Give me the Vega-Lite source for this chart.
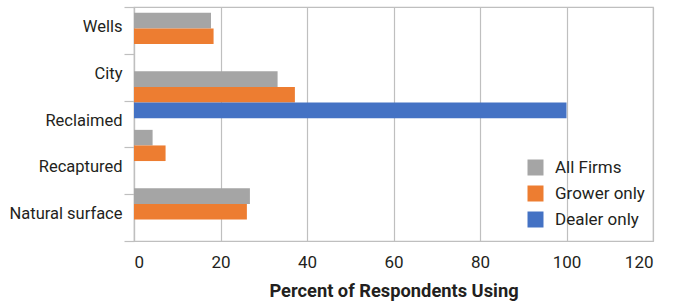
{
  "$schema": "https://vega.github.io/schema/vega-lite/v6.json",
  "autosize": {"type": "none"},
  "width": 519,
  "height": 234,
  "padding": {"left": 134, "top": 7, "right": 28, "bottom": 66},
  "background": "white",
  "config": {
    "view": {"stroke": "#bfbfbf", "strokeWidth": 1.2},
    "font": "Roboto, sans-serif",
    "axis": {"labelColor": "#231f20", "titleColor": "#231f20"}
  },
  "datasets": {
    "bars": [
      {"slot": "1", "series": "All Firms", "percent": 17.8},
      {"slot": "1", "series": "Grower only", "percent": 18.4},
      {"slot": "1", "series": "Dealer only", "percent": 0},
      {"slot": "2", "series": "All Firms", "percent": 33.2},
      {"slot": "2", "series": "Grower only", "percent": 37.2},
      {"slot": "2", "series": "Dealer only", "percent": 100},
      {"slot": "3", "series": "All Firms", "percent": 4.3},
      {"slot": "3", "series": "Grower only", "percent": 7.3},
      {"slot": "3", "series": "Dealer only", "percent": 0},
      {"slot": "4", "series": "All Firms", "percent": 26.8},
      {"slot": "4", "series": "Grower only", "percent": 26.1},
      {"slot": "4", "series": "Dealer only", "percent": 0}
    ],
    "labels": [
      {"source": "Wells"},
      {"source": "City"},
      {"source": "Reclaimed"},
      {"source": "Recaptured"},
      {"source": "Natural surface"}
    ]
  },
  "layer": [
    {
      "data": {"name": "bars"},
      "mark": {"type": "bar"},
      "encoding": {
        "y": {
          "field": "slot", "type": "nominal", "sort": null,
          "scale": {"paddingInner": 0.2, "paddingOuter": 0.1},
          "axis": null
        },
        "yOffset": {
          "field": "series", "type": "nominal",
          "sort": ["All Firms", "Grower only", "Dealer only"],
          "scale": {"domain": ["All Firms", "Grower only", "Dealer only"], "paddingInner": 0, "paddingOuter": 0}
        },
        "x": {
          "field": "percent", "type": "quantitative",
          "scale": {"domain": [0, 120], "nice": false},
          "axis": {
            "values": [0, 20, 40, 60, 80, 100, 120],
            "grid": true, "gridColor": "#bfbfbf", "gridWidth": 1.2,
            "domain": false, "ticks": false,
            "labelFontSize": 17, "labelPadding": 13,
            "title": "Percent of Respondents Using",
            "titleFontSize": 18.3, "titleFontWeight": "bold", "titlePadding": 12
          }
        },
        "color": {
          "field": "series", "type": "nominal",
          "scale": {
            "domain": ["All Firms", "Grower only", "Dealer only"],
            "range": ["#a5a5a5", "#ed7d31", "#4472c4"]
          },
          "legend": {
            "title": null, "orient": "none", "legendX": 393, "legendY": 152,
            "padding": 0, "symbolType": "square", "symbolSize": 256,
            "symbolStrokeWidth": 0, "symbolOpacity": 1,
            "labelFontSize": 17, "labelColor": "#231f20", "labelOffset": 11,
            "rowPadding": 8
          }
        }
      }
    },
    {
      "data": {"name": "labels"},
      "mark": {"type": "text"},
      "encoding": {
        "y": {
          "field": "source", "type": "nominal", "sort": null,
          "scale": {"paddingInner": 0, "paddingOuter": 0},
          "axis": {
            "orient": "left", "title": null, "tickBand": "extent",
            "tickSize": 10, "tickColor": "#bfbfbf", "tickWidth": 1.2,
            "domainColor": "#bfbfbf", "domainWidth": 1.2,
            "labelFontSize": 16.5, "labelPadding": 2, "labelOffset": -4
          }
        }
      }
    }
  ],
  "resolve": {"scale": {"y": "independent"}}
}
